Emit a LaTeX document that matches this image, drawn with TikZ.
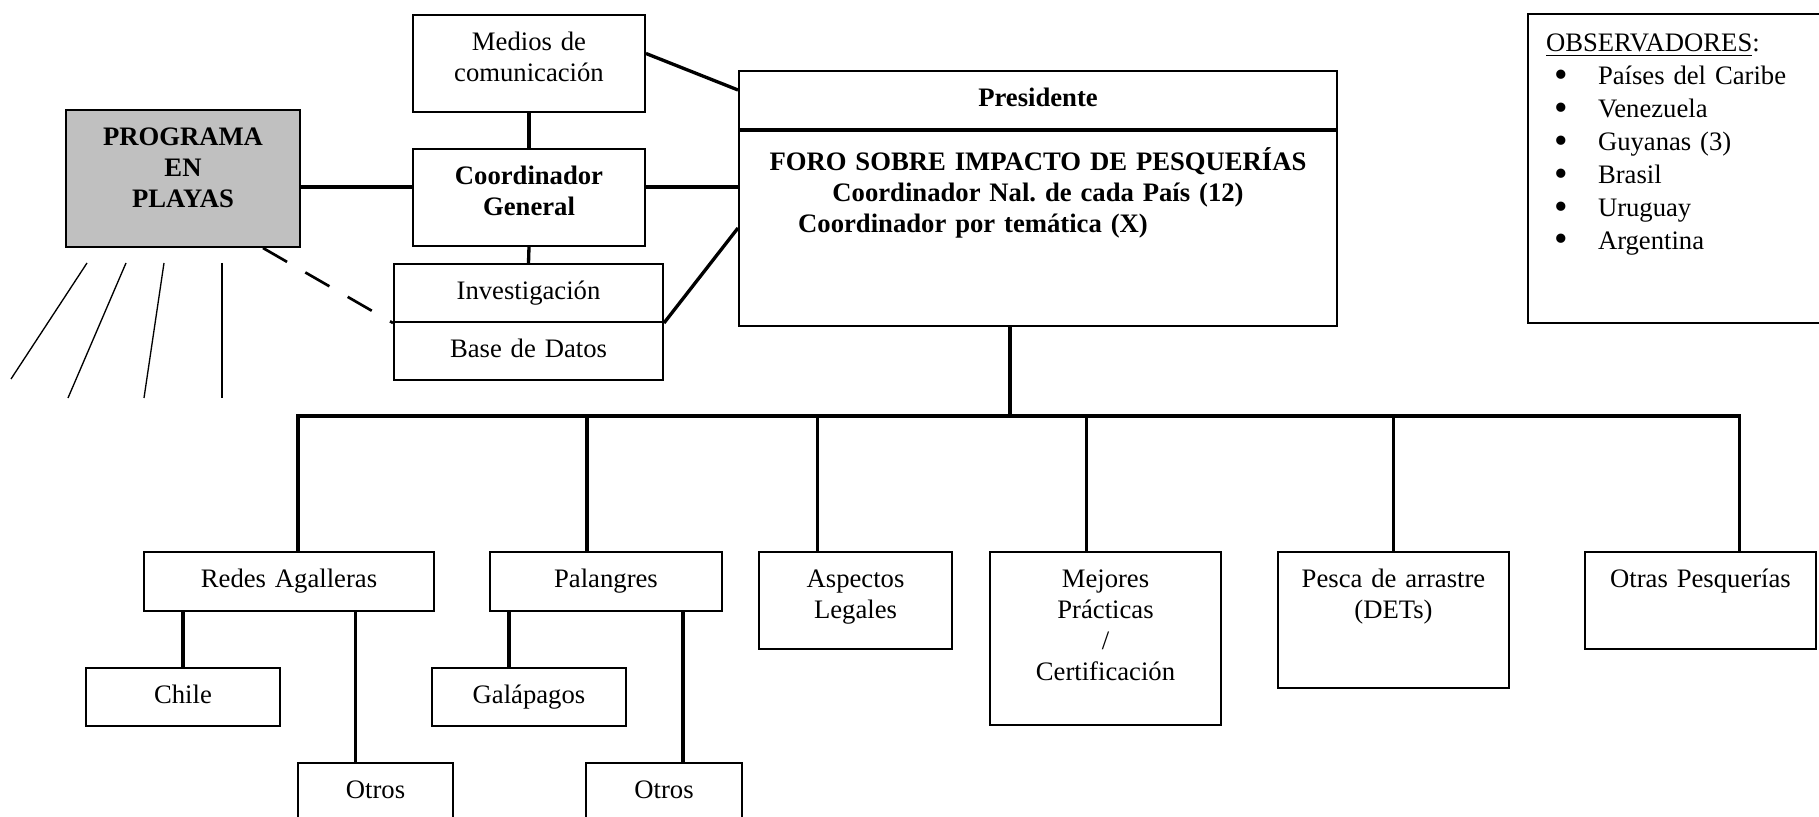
\documentclass[tikz,border=0pt]{standalone}
\usepackage{graphicx}
\usepackage{fontspec}
\setmainfont{Liberation Serif}
\frenchspacing
\newdimen\pxu \pxu=0.45pt
\newcommand\boxfont{\fontsize{12}{13.9}\selectfont}
\newcommand\obsitem[1]{\hspace*{8\pxu}\makebox[44\pxu][l]{\raisebox{-1.2pt}{\scalebox{1.45}{\textbullet}}}#1}
\definecolor{progray}{RGB}{192,192,192}
\begin{document}
\begin{tikzpicture}[x=0.45pt,y=-0.45pt,
    bx/.style 2 args={draw,line width=0.9pt,anchor=north,align=center,inner sep=0pt,
      text width=#1\pxu,text height=36\pxu,text depth=#2\pxu,font=\boxfont},
    conn/.style={line width=1.5pt}]
  \useasboundingbox (0,0) rectangle (1819,817);
  \clip (0,0) rectangle (1819,817);
  \node[bx={232}{61}] (medios) at (529,14) {Medios de\\comunicación};
  \node[bx={234}{101},fill=progray,font=\boxfont\bfseries] (programa) at (183,109) {PROGRAMA\\EN\\PLAYAS};
  \node[bx={232}{61},font=\boxfont\bfseries] (coord) at (529,148) {Coordinador\\General};
  \node[bx={269}{22}] (invest) at (528.5,263) {Investigación};
  \node[bx={269}{22}] (base) at (528.5,321) {Base de Datos};
  \node[bx={598}{22},font=\boxfont\bfseries] (pres) at (1038,70) {Presidente};
  \node[bx={598}{155},text height=40\pxu,font=\boxfont\bfseries] (foro) at (pres.south)
    {FORO SOBRE IMPACTO DE PESQUERÍAS\\Coordinador Nal. de cada País (12)\\Coordinador por temática (X)\hspace{130\pxu}\mbox{}};
  \node[draw,line width=0.9pt,anchor=north west,align=left,inner xsep=18\pxu,inner ysep=0pt,
    text width=300\pxu,text height=38\pxu,text depth=271\pxu,
    font=\fontsize{12}{14.8}\selectfont] (obs) at (1527,13)
    {\underline{OBSERVADORES}:\\\obsitem{Países del Caribe}\\\obsitem{Venezuela}\\\obsitem{Guyanas (3)}\\
     \obsitem{Brasil}\\\obsitem{Uruguay}\\\obsitem{Argentina}};
  \node[bx={290}{23}] (redes) at (289,551) {Redes Agalleras};
  \node[bx={232}{23}] (palang) at (606,551) {Palangres};
  \node[bx={193}{61}] (asp) at (855.5,551) {Aspectos\\Legales};
  \node[bx={231}{137}] (mej) at (1105.5,551) {Mejores\\Prácticas\\/\\Certificación};
  \node[bx={231}{100}] (pesca) at (1393.5,551) {Pesca de arrastre\\(DETs)};
  \node[bx={231}{61}] (otras) at (1700.5,551) {Otras Pesquerías};
  \node[bx={194}{22}] (chile) at (183,667) {Chile};
  \node[bx={194}{22}] (galap) at (529,667) {Galápagos};
  \node[bx={155}{22}] (otros1) at (375.5,762) {Otros};
  \node[bx={156}{22}] (otros2) at (664,762) {Otros};
  \coordinate (hl) at (0,187);
  \coordinate (bus) at (1010,416);
  \draw[conn] (programa.east |- hl) -- (coord.west |- hl);
  \draw[conn] (coord.east |- hl) -- (foro.west |- hl);
  \draw[conn] (medios.south) -- (coord.north);
  \draw[conn] (coord.south) -- (invest.north);
  \draw[conn] ([yshift=10\pxu]medios.east) -- ([yshift=-20\pxu]pres.north west);
  \draw[conn] (invest.south east) -- ([yshift=-98\pxu]foro.north west);
  \draw[line width=1.2pt,dash pattern=on 12.5pt off 9.5pt] ([xshift=-38\pxu]programa.south east) -- (invest.south west);
  \foreach \xa/\xb/\yb in {87/11/379,126/68/398,164/144/398,222/222/398}
    \draw[line width=0.6pt] (\xa,263) -- (\xb,\yb);
  \draw[conn] (foro.south -| bus) -- (bus);
  \foreach \n/\dx in {redes/9,palang/-19,asp/-38,mej/-19,pesca/0,otras/39}
    \draw[conn] ([xshift=\dx\pxu]\n.north) |- (bus);
  \foreach \n/\dx/\p in {chile/0/redes,otros1/-20/redes,galap/-20/palang,otros2/19/palang}{
    \coordinate (t) at ([xshift=\dx\pxu]\n.north);
    \draw[conn] (t) -- (t |- \p.south);
  }
\end{tikzpicture}
\end{document}
